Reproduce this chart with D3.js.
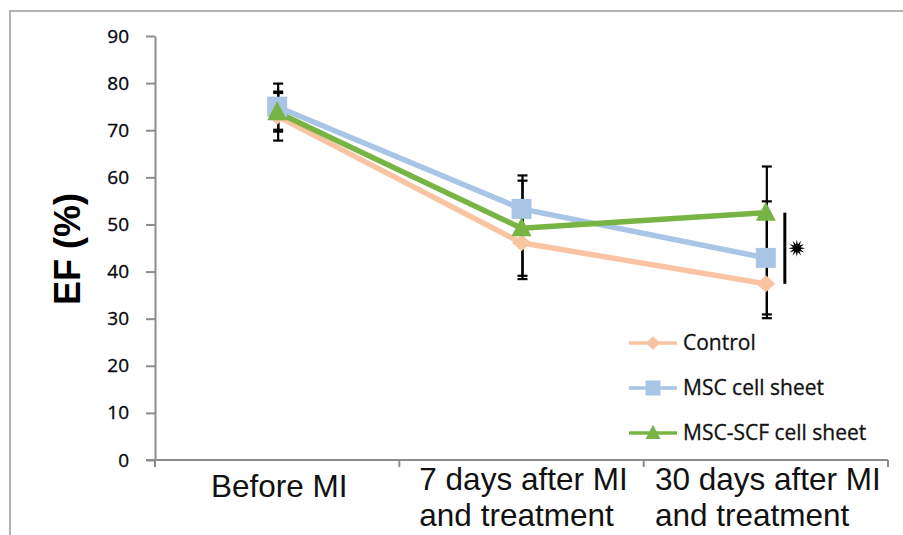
<!DOCTYPE html>
<html>
<head>
<meta charset="utf-8">
<script src="https://cdn.jsdelivr.net/npm/d3@7"></script>
<style>
  html, body { margin: 0; padding: 0; background: #fff; }
  svg { display: block; }
</style>
</head>
<body>
<svg id="chart" width="903" height="535"></svg>
<script>
// ---- data ----
const categories = ["Before MI", "7 days after MI\nand treatment", "30 days after MI\nand treatment"];
const seriesNames = ["Control", "MSC cell sheet", "MSC-SCF cell sheet"];
const controlValues = [73.0, 46.1, 37.4];
const controlErrors = [5.2, 7.7, 7.3];
const mscValues = [75.0, 53.3, 42.9];
const mscErrors = [4.9, 7.1, 12.0];
const scfValues = [73.8, 49.2, 52.5];
const scfErrors = [4.1, 10.1, 9.8];
const yTicks = [0, 10, 20, 30, 40, 50, 60, 70, 80, 90];
const yLabel = "EF (%)";
const significance = { category: 2, from: 52.5, to: 37.4, mark: "*" };

// ---- layout / style ----
const colors = ["#f9c4a2", "#a8c5e6", "#78b443"];
const shapes = ["diamond", "square", "triangle"];
const svg = d3.select("#chart");
const W = 903, H = 535;
const plot = { left: 155, right: 888, top: 36, bottom: 460 };

const x = d3.scaleBand().domain(categories).range([plot.left, plot.right]);
const y = d3.scaleLinear().domain([0, 90]).range([plot.bottom, plot.top]);
const cx = c => x(c) + x.bandwidth() / 2;

// frame
svg.append("path")
  .attr("d", `M10,${H} L10,11 L${W},11`)
  .attr("fill", "none").attr("stroke", "#b3b3b3").attr("stroke-width", 2);

// y axis
const yAxis = svg.append("g")
  .attr("transform", `translate(${plot.left},0)`)
  .call(d3.axisLeft(y).tickValues(yTicks).tickSize(9).tickSizeOuter(0).tickPadding(17));
yAxis.select(".domain").attr("stroke", "#8c8c8c").attr("stroke-width", 2);
yAxis.selectAll(".tick line").attr("stroke", "#8c8c8c").attr("stroke-width", 2);
yAxis.selectAll(".tick text")
  .attr("font-family", "'Open Sans', sans-serif").attr("font-size", 19)
  .attr("fill", "#000").attr("stroke", "#1a1a2a").attr("stroke-width", 0.35);

// x axis
const xAxis = svg.append("g");
xAxis.append("line")
  .attr("x1", plot.left - 9).attr("x2", plot.right)
  .attr("y1", plot.bottom).attr("y2", plot.bottom)
  .attr("stroke", "#8c8c8c").attr("stroke-width", 2);
const bounds = categories.map(c => x(c)).concat([x(categories[categories.length - 1]) + x.bandwidth()]);
xAxis.selectAll("line.xt").data(bounds).enter().append("line")
  .attr("class", "xt")
  .attr("x1", d => d).attr("x2", d => d)
  .attr("y1", plot.bottom).attr("y2", plot.bottom + 7)
  .attr("stroke", "#8c8c8c").attr("stroke-width", 2);

const labelFont = "'Liberation Sans', Arial, sans-serif";
categories.forEach(c => {
  const lines = c.split("\n");
  const t = xAxis.append("text")
    .attr("font-family", labelFont).attr("font-size", 31.5).attr("fill", "#111");
  lines.forEach(ln => { t.append("tspan").text(ln); });
  const ts = t.selectAll("tspan").nodes();
  const widths = ts.map(n => n.getComputedTextLength());
  const maxW = d3.max(widths);
  const left = cx(c) - maxW / 2 + 2;
  const firstBase = lines.length > 1 ? 490 : 497;
  ts.forEach((n, i) => {
    d3.select(n).attr("x", left).attr("y", firstBase + i * 36);
  });
});

// y label
svg.append("text")
  .attr("transform", `translate(80,249) rotate(-90)`)
  .attr("text-anchor", "middle")
  .attr("font-family", labelFont).attr("font-weight", "bold").attr("font-size", 36)
  .attr("fill", "#000")
  .text(yLabel);

// series
const series = [
  { name: seriesNames[0], values: controlValues, errors: controlErrors },
  { name: seriesNames[1], values: mscValues, errors: mscErrors },
  { name: seriesNames[2], values: scfValues, errors: scfErrors }
];

function markerPath(shape, s) {
  if (shape === "square") return `M${-s/2},${-s/2}h${s}v${s}h${-s}Z`;
  if (shape === "diamond") return `M0,${-s*0.45}L${s/2},0L0,${s*0.45}L${-s/2},0Z`;
  return `M0,${-s*0.55}L${s/2},${s*0.4}L${-s/2},${s*0.4}Z`;
}

const line = d3.line().x((d, i) => cx(categories[i])).y(d => y(d));

// lines
series.forEach((s, k) => {
  svg.append("path").datum(s.values)
    .attr("d", line)
    .attr("fill", "none").attr("stroke", colors[k]).attr("stroke-width", 5.5)
    .attr("stroke-linejoin", "round");
});

// error bars
const eb = svg.append("g").attr("stroke", "#000").attr("stroke-width", 2.2);
series.forEach((s, k) => {
  s.values.forEach((v, i) => {
    const xx = cx(categories[i]) + 1;
    const hi = y(v + s.errors[i]), lo = y(v - s.errors[i]);
    eb.append("line").attr("x1", xx).attr("x2", xx).attr("y1", hi).attr("y2", lo);
    [hi, lo].forEach(yy => {
      eb.append("line").attr("x1", xx - 5).attr("x2", xx + 5).attr("y1", yy).attr("y2", yy);
    });
  });
});

// markers
const markerSize = [19, 20, 20];
series.forEach((s, k) => {
  svg.append("g").selectAll("path").data(s.values).enter().append("path")
    .attr("transform", (d, i) => `translate(${cx(categories[i])},${y(d)})`)
    .attr("d", markerPath(shapes[k], markerSize[k]))
    .attr("fill", colors[k]);
});

// significance bar + asterisk
const sx = cx(categories[significance.category]) + 19;
svg.append("line")
  .attr("x1", sx).attr("x2", sx)
  .attr("y1", y(significance.from)).attr("y2", y(significance.to))
  .attr("stroke", "#000").attr("stroke-width", 3);
const starPts = d3.range(24).map(i => [i * Math.PI / 12, i % 2 === 0 ? 8.5 : 3.8]);
svg.append("path")
  .attr("transform", `translate(${sx + 12},${(y(significance.from) + y(significance.to)) / 2})`)
  .attr("d", d3.lineRadial().curve(d3.curveLinearClosed)(starPts))
  .attr("fill", "#000");

// legend
const legend = svg.append("g");
series.forEach((s, k) => {
  const ly = 343 + k * 45;
  legend.append("line").attr("x1", 629).attr("x2", 677).attr("y1", ly).attr("y2", ly)
    .attr("stroke", colors[k]).attr("stroke-width", 3.5);
  legend.append("path").attr("transform", `translate(653,${ly})`)
    .attr("d", markerPath(shapes[k], 15)).attr("fill", colors[k]);
  legend.append("text").attr("x", 683).attr("y", ly).attr("dy", "0.35em")
    .attr("font-family", "'Open Sans', sans-serif").attr("font-size", 21)
    .attr("fill", "#111").attr("stroke", "#111").attr("stroke-width", 0.3)
    .text(s.name);
});
</script>
</body>
</html>
